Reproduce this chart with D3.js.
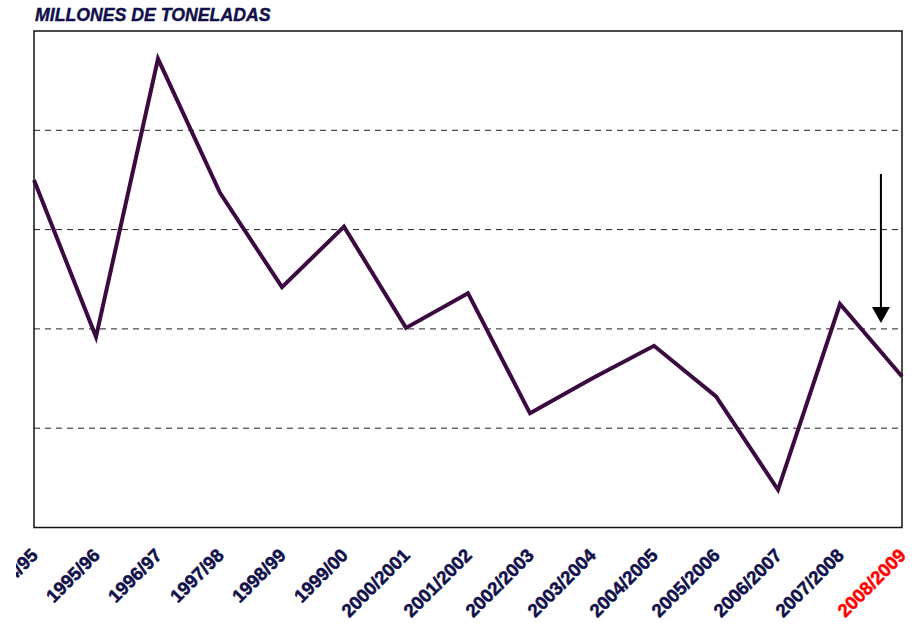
<!DOCTYPE html>
<html>
<head>
<meta charset="utf-8">
<script src="https://cdn.jsdelivr.net/npm/d3@7"></script>
<style>
  body { margin: 0; background: #fff; }
  svg { display: block; font-family: "Liberation Sans", Arial, sans-serif; }
</style>
</head>
<body>
<div id="canvas"></div>
<script>
"use strict"

/* Data (millions of tonnes, scale estimated) */
let seasons = ["1994/95", "1995/96", "1996/97", "1997/98", "1998/99", "1999/00",
    "2000/2001", "2001/2002", "2002/2003", "2003/2004", "2004/2005",
    "2005/2006", "2006/2007", "2007/2008", "2008/2009"];
let tonnes = [35.0, 19.2, 47.2, 33.7, 24.2, 30.3, 20.1, 23.6, 11.5, 15.0, 18.3, 13.2, 3.8, 22.5, 15.2];
let gridValues = [10, 20, 30, 40];
let highlightSeason = "2008/2009";
/* Arrow annotation: from / to value, placed between the last two seasons */
let arrowFrom = 35.6;
let arrowTo = 20.6;

/* Drawing config */
let svgWidth = 918;
let svgHeight = 626;
let plot = { left: 34, right: 902, top: 31, bottom: 527.5 };
let navy = "#10104a";

let svg = d3.select("#canvas")
    .append("svg")
    .attr("width", svgWidth)
    .attr("height", svgHeight);

/* the source picture is cropped a bit on the left, labels get cut there */
svg.append("clipPath")
    .attr("id", "labelClip")
    .append("rect")
    .attr("x", 16)
    .attr("y", 0)
    .attr("width", svgWidth - 16)
    .attr("height", svgHeight);

let xScale = d3.scalePoint()
    .domain(seasons)
    .range([plot.left, plot.right]);

let yScale = d3.scaleLinear()
    .domain([0, 50])
    .range([plot.bottom, plot.top]);

/* dashed gridlines */
svg.selectAll("line.grid")
    .data(gridValues)
    .join("line")
    .attr("class", "grid")
    .attr("x1", plot.left)
    .attr("x2", plot.right)
    .attr("y1", d => yScale(d))
    .attr("y2", d => yScale(d))
    .attr("stroke", "#222")
    .attr("stroke-width", 1)
    .attr("stroke-dasharray", "6,5");

/* plot border */
svg.append("rect")
    .attr("x", plot.left)
    .attr("y", plot.top)
    .attr("width", plot.right - plot.left)
    .attr("height", plot.bottom - plot.top)
    .attr("fill", "none")
    .attr("stroke", "#111")
    .attr("stroke-width", 1.5);

/* the series line */
let line = d3.line()
    .x((d, i) => xScale(seasons[i]))
    .y(d => yScale(d));

svg.append("path")
    .datum(tonnes)
    .attr("d", line)
    .attr("fill", "none")
    .attr("stroke", "#3b0a40")
    .attr("stroke-width", 4)
    .attr("stroke-linejoin", "miter");

/* arrow annotation */
let arrowX = xScale(seasons[13]) + xScale.step() * 0.66;
svg.append("line")
    .attr("x1", arrowX)
    .attr("x2", arrowX)
    .attr("y1", yScale(arrowFrom))
    .attr("y2", yScale(arrowTo) - 14)
    .attr("stroke", "#000")
    .attr("stroke-width", 2);

svg.append("path")
    .attr("d", d3.line()([
        [arrowX - 9, yScale(arrowTo) - 16],
        [arrowX + 9, yScale(arrowTo) - 16],
        [arrowX, yScale(arrowTo)]
    ]) + "Z")
    .attr("fill", "#000");

/* x axis labels, rotated */
svg.append("g")
    .attr("clip-path", "url(#labelClip)")
    .selectAll("text")
    .data(seasons)
    .join("text")
    .attr("text-anchor", "end")
    .attr("transform", d => "translate(" + (xScale(d) + 5) + "," + (plot.bottom + 29) + ") rotate(-45)")
    .attr("font-size", "18.5px")
    .attr("font-weight", "bold")
    .attr("fill", d => d === highlightSeason ? "#ff0000" : navy)
    .attr("stroke", d => d === highlightSeason ? "#ff0000" : navy)
    .attr("stroke-width", 0.5)
    .text(d => d);

/* title */
svg.append("text")
    .attr("x", 35)
    .attr("y", 21)
    .attr("font-size", "17.7px")
    .attr("font-weight", "bold")
    .attr("font-style", "italic")
    .attr("fill", navy)
    .attr("stroke", navy)
    .attr("stroke-width", 0.4)
    .text("MILLONES DE TONELADAS");
</script>
</body>
</html>
